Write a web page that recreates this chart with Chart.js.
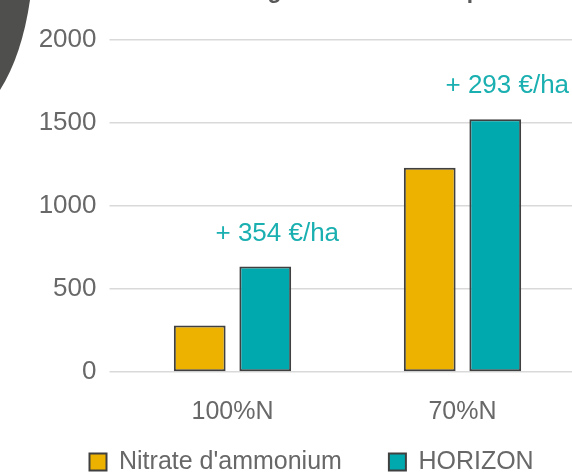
<!DOCTYPE html>
<html lang="fr">
<head>
<meta charset="UTF-8">
<title>Nitrate vs HORIZON</title>
<style>
  html, body { margin: 0; padding: 0; background: #fff; overflow: hidden; }
  .chart-wrapper { position: relative; width: 600px; height: 473px; }
</style>
</head>
<body>
<div class="chart-wrapper">
  <canvas id="myChart"></canvas>
</div>

<script src="https://cdn.jsdelivr.net/npm/chart.js"></script>
<script>
  // data
  const categories = ['100%N', '70%N'];
  const nitrateValues = [280, 1230];
  const horizonValues = [635, 1523];
  const gainLabels = ['+ 354 €/ha', '+ 293 €/ha'];
  const yTicks = [0, 500, 1000, 1500, 2000];
  const titleText = 'Marge brute économique';

  const FONT = "'Liberation Sans', Arial, sans-serif";
  const GREY = '#686868';
  const TEAL = '#00A9AE';

  // dark decoration top-left + cropped title
  const decorPlugin = {
    id: 'decor',
    beforeDraw(chart) {
      const ctx = chart.ctx;
      ctx.save();
      ctx.fillStyle = '#4f4f4d';
      ctx.beginPath();
      ctx.moveTo(0, 0);
      ctx.lineTo(30, 0);
      ctx.quadraticCurveTo(22, 55, 0, 90);
      ctx.closePath();
      ctx.fill();

      ctx.font = 'bold 23px ' + FONT;
      ctx.fillStyle = '#595959';
      ctx.textAlign = 'right';
      ctx.textBaseline = 'alphabetic';
      ctx.fillText(titleText, 500, -2);
      ctx.restore();
    }
  };

  // legend: one short row, nudged to where the original sits
  // (legend clips to its own box, so the bottom stays at the canvas edge)
  const legendTweak = {
    id: 'legendTweak',
    beforeLayout(chart) {
      const lg = chart.legend;
      if (lg && !lg._patched) {
        const fit = lg.fit.bind(lg);
        lg.fit = function () { fit(); this.height = 48; };
        lg._patched = true;
      }
    },
    afterLayout(chart) {
      const lg = chart.legend;
      if (!lg) return;
      lg.left += 42.5; lg.right += 42.5;
      lg.top -= 22.5; lg.bottom = chart.height;
    }
  };

  // "+ xxx €/ha" above the HORIZON bars
  const gainPlugin = {
    id: 'gains',
    afterDatasetsDraw(chart) {
      const ctx = chart.ctx;
      const meta = chart.getDatasetMeta(1);
      ctx.save();
      ctx.font = '26px ' + FONT;
      ctx.fillStyle = '#1AAFB0';
      ctx.textAlign = 'center';
      ctx.textBaseline = 'middle';
      meta.data.forEach((bar, i) => {
        ctx.fillText(gainLabels[i], bar.x + 12, bar.y - 33);
      });
      ctx.restore();
    }
  };

  const ctx = document.getElementById('myChart').getContext('2d');

  new Chart(ctx, {
    type: 'bar',
    data: {
      labels: categories,
      datasets: [
        {
          label: "Nitrate d'ammonium",
          data: nitrateValues,
          backgroundColor: '#EDB100',
          borderColor: '#404040',
          borderWidth: 2,
          borderSkipped: false,
          categoryPercentage: 0.57,
          barPercentage: 0.79
        },
        {
          label: 'HORIZON',
          data: horizonValues,
          backgroundColor: TEAL,
          borderColor: '#404040',
          borderWidth: 2,
          borderSkipped: false,
          categoryPercentage: 0.57,
          barPercentage: 0.79
        }
      ]
    },
    options: {
      responsive: true,
      maintainAspectRatio: false,
      animation: false,
      layout: {
        padding: { left: 0, right: 22.5, top: 40, bottom: 0 }
      },
      plugins: {
        tooltip: { enabled: false },
        legend: {
          position: 'bottom',
          align: 'start',
          labels: {
            boxWidth: 17,
            boxHeight: 17,
            padding: 47,
            color: GREY,
            font: { family: FONT, size: 25 }
          }
        }
      },
      scales: {
        x: {
          afterFit: scale => { scale.height = 53; },
          grid: { display: false, drawTicks: false },
          border: { display: false },
          ticks: {
            color: GREY,
            padding: 25,
            font: { family: FONT, size: 25 }
          }
        },
        y: {
          min: 0,
          max: 2000,
          afterBuildTicks: scale => { scale.ticks = yTicks.map(v => ({ value: v })); },
          afterFit: scale => { scale.width = 117.5; },
          grid: { color: '#d9d9d9', lineWidth: 1.5, tickLength: 8 },
          border: { display: false },
          ticks: {
            color: GREY,
            padding: 13,
            font: { family: FONT, size: 26 },
            callback: v => String(v)
          }
        }
      }
    },
    plugins: [decorPlugin, legendTweak, gainPlugin]
  });
</script>
</body>
</html>
